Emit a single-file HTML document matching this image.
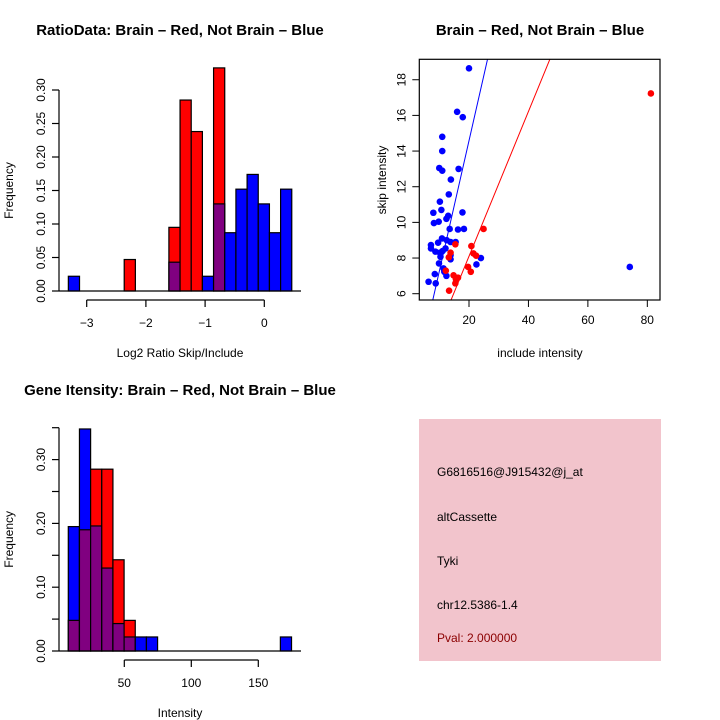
<!DOCTYPE html>
<html><head><meta charset="utf-8"><style>
body{margin:0;background:#fff}
svg{display:block;font-family:"Liberation Sans",sans-serif}
</style></head><body>
<svg id="s" width="720" height="720" viewBox="0 0 720 720" xmlns="http://www.w3.org/2000/svg">
<text x="180" y="35" font-size="15" font-weight="bold" text-anchor="middle">RatioData: Brain – Red, Not Brain – Blue</text>
<text x="540" y="35" font-size="15" font-weight="bold" text-anchor="middle">Brain – Red, Not Brain – Blue</text>
<text x="180" y="395" font-size="15" font-weight="bold" text-anchor="middle">Gene Itensity: Brain – Red, Not Brain – Blue</text>
<g id="p1"></g>
<g id="p2"></g>
<g id="p3"></g>
<g>
<rect x="419" y="419" width="242" height="242" fill="#f2c4cc"/>
<text x="437" y="476" font-size="12">G6816516@J915432@j_at</text>
<text x="437" y="521" font-size="12">altCassette</text>
<text x="437" y="565" font-size="12">Tyki</text>
<text x="437" y="609" font-size="12">chr12.5386-1.4</text>
<text x="437" y="642" font-size="12" fill="#8b0000">Pval: 2.000000</text>
</g>
</svg>
<script>
// Ratio histogram data
const ratioBinStart = -3.31;
const ratioBinWidth = 0.1887;
const ratioRed  = [0,0,0,0,0,0.047,0,0,0,0.095,0.285,0.238,0,0.333,0,0,0,0,0,0];
const ratioBlue = [0.022,0,0,0,0,0,0,0,0,0.043,0,0,0.022,0.13,0.087,0.152,0.174,0.13,0.087,0.152];
const ratioXTicks = [-3,-2,-1,0];
const ratioYTicks = [0,0.05,0.1,0.15,0.2,0.25,0.3];
const ratioYLabels = ["0.00","0.05","0.10","0.15","0.20","0.25","0.30"];
// Scatter data
const blueX = [20,16,17.9,11,11,10,11,16.5,13.9,13.2,10.2,10.7,8,17.8,13,12.4,9.8,8.2,13.5,16.3,18.3,10.9,12.5,13.8,15.5,9.6,7.2,7.2,8.7,10.2,11.1,12.1,10.4,13.8,13.8,24,22.5,9.9,11.4,11.7,8.5,12.4,6.4,8.8,74.1];
const blueY = [18.64,16.2,15.9,14.8,14,13.05,12.9,13,12.4,11.57,11.16,10.7,10.54,10.56,10.37,10.2,10.04,9.96,9.63,9.6,9.63,9.1,9,8.9,8.9,8.86,8.73,8.54,8.36,8.3,8.39,8.54,8.07,8.17,7.93,8,7.64,7.7,7.42,7.23,7.1,7,6.67,6.58,7.5];
const redX = [81.2,24.9,20.8,21.5,22.4,13.8,13.2,15.4,19.7,20.6,12.2,14.8,15.6,15.4,16.3,13.3];
const redY = [17.23,9.63,8.67,8.26,8.13,8.3,8.04,8.77,7.5,7.23,7.29,7.03,6.82,6.58,6.9,6.17];
const blueFit = [-0.08,0.733];
const redFit = [-0.02,0.406];
const scatXTicks = [20,40,60,80];
const scatYTicks = [6,8,10,12,14,16,18];
// Intensity histogram data
const intBinStart = 8.2;
const intBinWidth = 8.33;
const intRed  = [0.048,0.19,0.285,0.285,0.143,0.048,0,0,0,0,0,0,0,0,0,0,0,0,0,0];
const intBlue = [0.195,0.348,0.196,0.13,0.043,0.022,0.022,0.022,0,0,0,0,0,0,0,0,0,0,0,0.022];
const intXTicks = [50,100,150];
const intYTicks = [0,0.05,0.1,0.15,0.2,0.25,0.3,0.35];
const intYLabels = ["0.00","","0.10","","0.20","","0.30",""];

const NS="http://www.w3.org/2000/svg";
function mk(parent,tag,attrs,text){const e=document.createElementNS(NS,tag);for(const k in attrs)e.setAttribute(k,attrs[k]);if(text!==undefined)e.textContent=text;parent.appendChild(e);return e;}

function hist(g,cfg){
  const {sx,sy,start,w,red,blue,xt,yt,yl,axisY,yAxisX,baseX2,xlabel,xlabelY,ylabelX}=cfg;
  for(let i=0;i<red.length;i++){
    const x0=start+i*w,x1=x0+w,r=red[i],b=blue[i];
    const hi=Math.max(r,b),lo=Math.min(r,b);
    if(hi>0){
      const e=mk(g,'rect',{x:sx(x0),y:sy(hi),width:sx(x1)-sx(x0),height:sy(0)-sy(hi),fill:r>=b?'#ff0000':'#0000ff',stroke:'#000','stroke-width':1.2});
      
      
    }
    if(lo>0){
      const e=mk(g,'rect',{x:sx(x0),y:sy(lo),width:sx(x1)-sx(x0),height:sy(0)-sy(lo),fill:'#800080',stroke:'#000','stroke-width':1.2});
      
      
    }
  }
  let e=mk(g,'line',{x1:yAxisX,x2:baseX2,y1:sy(0),y2:sy(0),stroke:'#000','stroke-width':1.2});
  
  
  e=mk(g,'line',{x1:sx(xt[0]),x2:sx(xt[xt.length-1]),y1:axisY,y2:axisY,stroke:'#000','stroke-width':1.2});
  
  
  xt.forEach(v=>{
    mk(g,'line',{x1:sx(v),x2:sx(v),y1:axisY,y2:axisY+7,stroke:'#000','stroke-width':1.2});
    const t=mk(g,'text',{x:sx(v),y:axisY+27,'font-size':12,'text-anchor':'middle'},String(v).replace('-','−'));
    
    
  });
  e=mk(g,'line',{x1:yAxisX,x2:yAxisX,y1:sy(yt[0]),y2:sy(yt[yt.length-1]),stroke:'#000','stroke-width':1.2});
  
  
  yt.forEach((v,i)=>{
    mk(g,'line',{x1:yAxisX-7,x2:yAxisX,y1:sy(v),y2:sy(v),stroke:'#000','stroke-width':1.2});
    if(yl[i]){const t=mk(g,'text',{x:yAxisX-14,y:sy(v),'font-size':12,'text-anchor':'middle',transform:`rotate(-90 ${yAxisX-14} ${sy(v)})`},yl[i]);
    
    }
  });
  let t=mk(g,'text',{x:(yAxisX+baseX2)/2,y:xlabelY,'font-size':12,'text-anchor':'middle'},xlabel);
  
  
  const cy=(sy(0)+sy(yt[yt.length-1]))/2;
  t=mk(g,'text',{x:ylabelX,y:cy,'font-size':12,'text-anchor':'middle',transform:`rotate(-90 ${ylabelX} ${cy})`},'Frequency');
  
  
}

hist(document.getElementById('p1'),{
  sx:v=>264.3+(v-0)*59.2, sy:v=>291-v*670,
  start:ratioBinStart,w:ratioBinWidth,red:ratioRed,blue:ratioBlue,
  xt:ratioXTicks,yt:ratioYTicks,yl:ratioYLabels,axisY:300,yAxisX:59,baseX2:301,
  xlabel:'Log2 Ratio Skip/Include',xlabelY:357,ylabelX:13});
hist(document.getElementById('p3'),{
  sx:v=>124.3+(v-50)*1.34, sy:v=>651-v*638,
  start:intBinStart,w:intBinWidth,red:intRed,blue:intBlue,
  xt:intXTicks,yt:intYTicks,yl:intYLabels,axisY:660,yAxisX:59,baseX2:301,
  xlabel:'Intensity',xlabelY:717,ylabelX:13});

(function(){
  const g=document.getElementById('p2');
  const sx=v=>469+(v-20)*2.972, sy=v=>293.7-(v-6)*17.83;
  const L=419.3,R=660,T=59.3,B=300;
  const cp=mk(g,'clipPath',{id:'clip'});mk(cp,'rect',{x:L,y:T,width:R-L,height:B-T});
  [[blueFit,'#0000ff','fit-line-blue'],[redFit,'#ff0000','fit-line-red']].forEach(([f,c,n])=>{
    const x0=0,x1=100;
    const e=mk(g,'line',{x1:sx(x0),y1:sy(f[0]+f[1]*x0),x2:sx(x1),y2:sy(f[0]+f[1]*x1),stroke:c,'stroke-width':1,'clip-path':'url(#clip)'});
    
    
  });
  blueX.forEach((x,i)=>{const e=mk(g,'circle',{cx:sx(x),cy:sy(blueY[i]),r:3.3,fill:'#0000ff'});
    
    });
  redX.forEach((x,i)=>{const e=mk(g,'circle',{cx:sx(x),cy:sy(redY[i]),r:3.3,fill:'#ff0000'});
    
    });
  let e=mk(g,'rect',{x:L,y:T,width:R-L,height:B-T,fill:'none',stroke:'#000','stroke-width':1.2});
  
  
  scatXTicks.forEach(v=>{mk(g,'line',{x1:sx(v),x2:sx(v),y1:B,y2:B+7,stroke:'#000'});
    const t=mk(g,'text',{x:sx(v),y:B+24,'font-size':12,'text-anchor':'middle'},String(v));
    
    });
  scatYTicks.forEach(v=>{mk(g,'line',{x1:L-7,x2:L,y1:sy(v),y2:sy(v),stroke:'#000'});
    const t=mk(g,'text',{x:L-14,y:sy(v),'font-size':12,'text-anchor':'middle',transform:`rotate(-90 ${L-14} ${sy(v)})`},String(v));
    
    });
  let t=mk(g,'text',{x:540,y:357,'font-size':12,'text-anchor':'middle'},'include intensity');
  
  
  t=mk(g,'text',{x:386,y:180,'font-size':12,'text-anchor':'middle',transform:'rotate(-90 386 180)'},'skip intensity');
  
  
})();
</script>
</body></html>
